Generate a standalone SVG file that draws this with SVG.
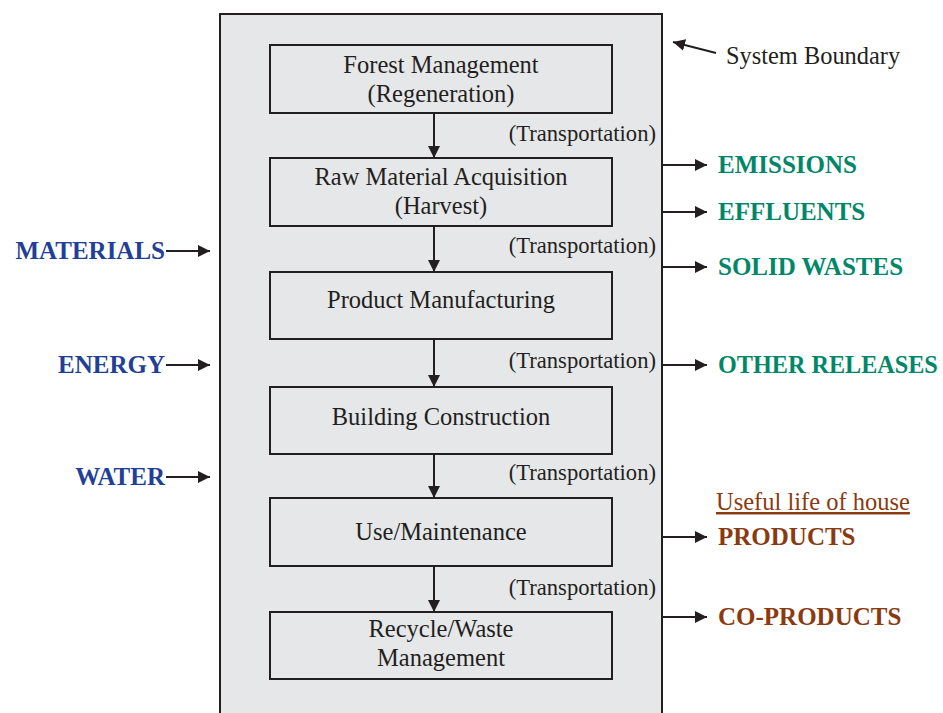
<svg xmlns="http://www.w3.org/2000/svg" width="943" height="713" viewBox="0 0 943 713">
<defs>
<marker id="ah" viewBox="0 0 12 12" refX="12" refY="6" markerWidth="12" markerHeight="12" markerUnits="userSpaceOnUse" orient="auto">
<path d="M0,0 L12,6 L0,12 Z" fill="#231f20"/>
</marker>
</defs>
<style>
.box{fill:#e6e7e8;stroke:#231f20;stroke-width:2}
.t{font-family:"Liberation Serif","Times New Roman",serif;font-size:24.5px;fill:#231f20;text-anchor:middle}
.tr{font-family:"Liberation Serif","Times New Roman",serif;font-size:22.6px;fill:#231f20;text-anchor:end}
.ln{stroke:#231f20;stroke-width:2;fill:none;marker-end:url(#ah)}
.in{font-family:"Liberation Serif","Times New Roman",serif;font-size:25px;font-weight:bold;fill:#1f3f98;text-anchor:end}
.out{font-family:"Liberation Serif","Times New Roman",serif;font-size:25px;font-weight:bold;fill:#00876a}
.pr{font-family:"Liberation Serif","Times New Roman",serif;font-size:25px;font-weight:bold;fill:#8b3a0f}
</style>
<rect width="943" height="713" fill="#ffffff"/>
<g id="boundary">
<rect x="220" y="14" width="442" height="710" fill="#e6e7e8" stroke="#231f20" stroke-width="2"/>
</g>
<g id="n1"><rect class="box" x="270" y="45" width="342" height="68"/><text class="t" x="441" y="73">Forest Management</text><text class="t" x="441" y="102">(Regeneration)</text></g>
<g id="n2"><rect class="box" x="270" y="158" width="342" height="68"/><text class="t" x="441" y="185">Raw Material Acquisition</text><text class="t" x="441" y="214">(Harvest)</text></g>
<g id="n3"><rect class="box" x="270" y="272" width="342" height="67"/><text class="t" x="441" y="308">Product Manufacturing</text></g>
<g id="n4"><rect class="box" x="270" y="387" width="342" height="67"/><text class="t" x="441" y="425">Building Construction</text></g>
<g id="n5"><rect class="box" x="270" y="498" width="342" height="68"/><text class="t" x="441" y="540">Use/Maintenance</text></g>
<g id="n6"><rect class="box" x="270" y="612" width="342" height="67"/><text class="t" x="441" y="637">Recycle/Waste</text><text class="t" x="441" y="666">Management</text></g>
<g id="connectors">
<line class="ln" x1="434" y1="113" x2="434" y2="158"/>
<line class="ln" x1="434" y1="226" x2="434" y2="272"/>
<line class="ln" x1="434" y1="339" x2="434" y2="387"/>
<line class="ln" x1="434" y1="454" x2="434" y2="498"/>
<line class="ln" x1="434" y1="566" x2="434" y2="612"/>
<line class="ln" x1="166" y1="251" x2="210" y2="251"/>
<line class="ln" x1="166" y1="365" x2="210" y2="365"/>
<line class="ln" x1="166" y1="477" x2="210" y2="477"/>
<line class="ln" x1="662" y1="165" x2="707" y2="165"/>
<line class="ln" x1="662" y1="212" x2="707" y2="212"/>
<line class="ln" x1="662" y1="267" x2="707" y2="267"/>
<line class="ln" x1="662" y1="365" x2="707" y2="365"/>
<line class="ln" x1="662" y1="537" x2="707" y2="537"/>
<line class="ln" x1="662" y1="617" x2="707" y2="617"/>
<line class="ln" x1="716" y1="53" x2="673" y2="42"/>
</g>
<g id="labels">
<text class="tr" x="656" y="141">(Transportation)</text>
<text class="tr" x="656" y="253">(Transportation)</text>
<text class="tr" x="656" y="368">(Transportation)</text>
<text class="tr" x="656" y="480">(Transportation)</text>
<text class="tr" x="656" y="595">(Transportation)</text>
<text x="726" y="64" style="font-family:'Liberation Serif','Times New Roman',serif;font-size:24.4px;fill:#231f20">System Boundary</text>
<text class="in" x="165" y="259">MATERIALS</text>
<text class="in" x="165" y="373">ENERGY</text>
<text class="in" x="165" y="485">WATER</text>
<text class="out" x="718" y="173">EMISSIONS</text>
<text class="out" x="718" y="220">EFFLUENTS</text>
<text class="out" x="718" y="275">SOLID WASTES</text>
<text class="out" x="718" y="373" style="font-size:24.2px">OTHER RELEASES</text>
<text x="716" y="510" style="font-family:'Liberation Serif','Times New Roman',serif;font-size:24.5px;fill:#8b3a0f;text-decoration:underline">Useful life of house</text>
<text class="pr" x="718" y="545">PRODUCTS</text>
<text class="pr" x="718" y="625">CO-PRODUCTS</text>
</g>
</svg>
